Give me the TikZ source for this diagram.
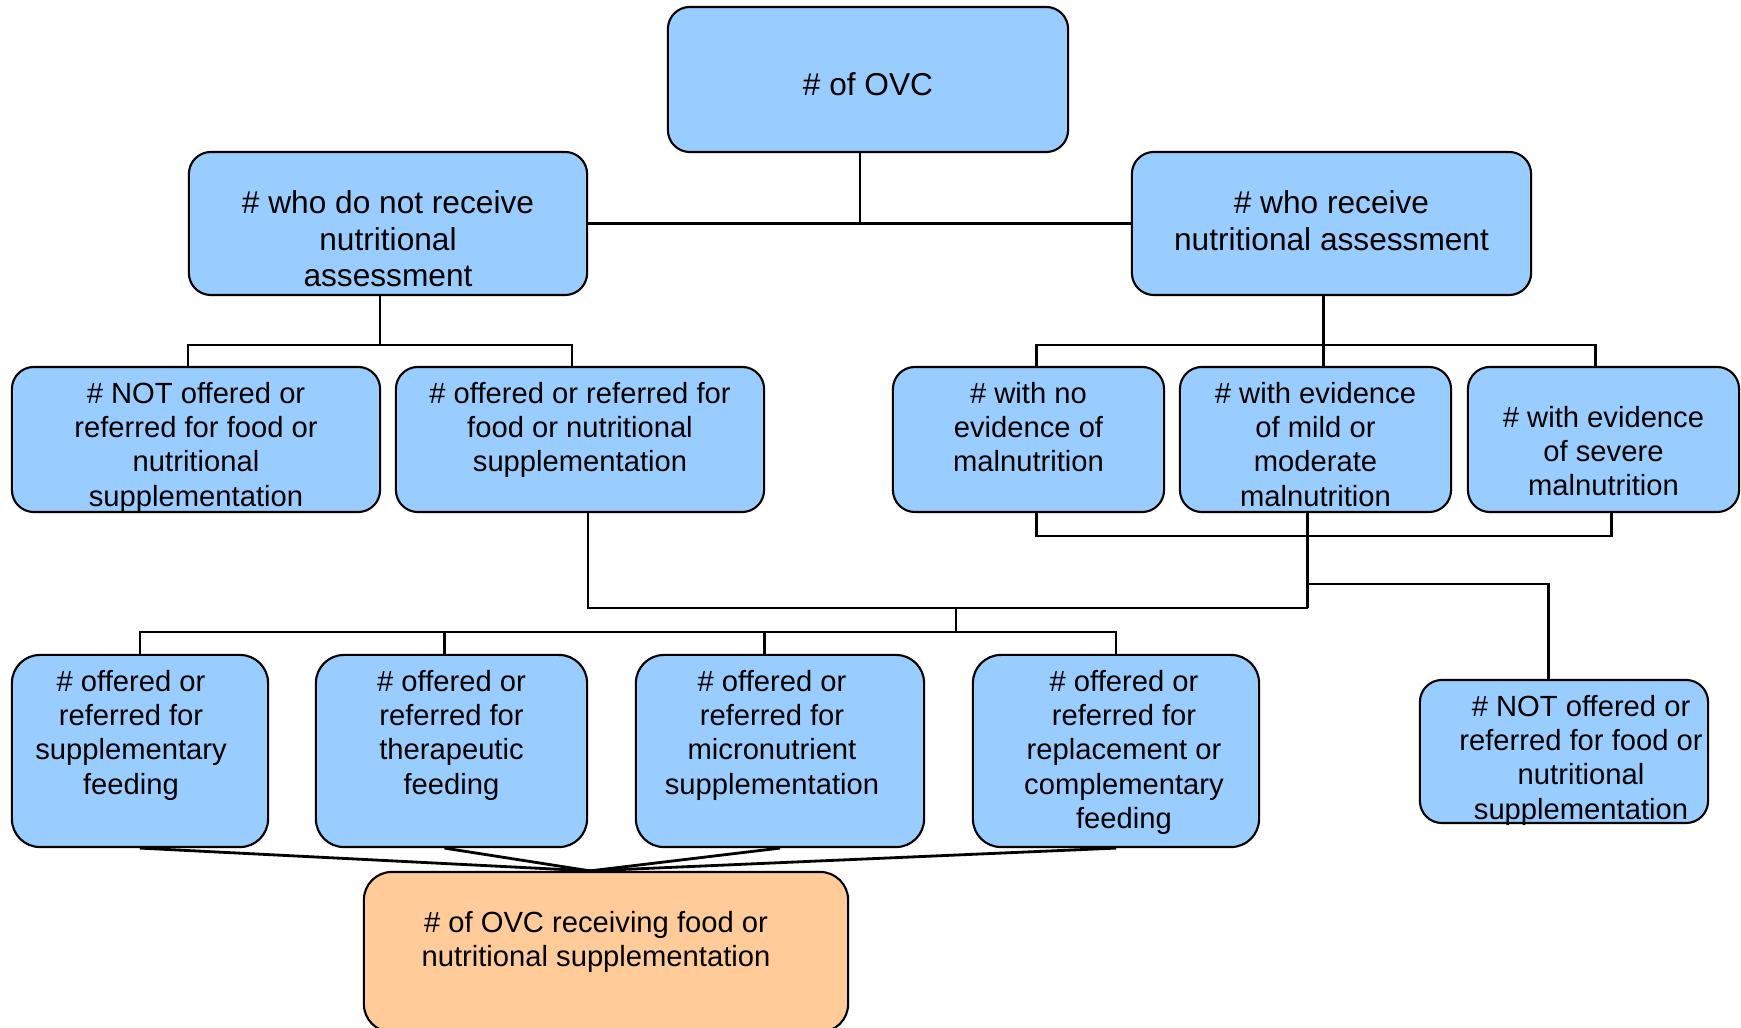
\documentclass[tikz,border=0pt]{standalone}
\usepackage{fontspec}
\setmainfont{Liberation Sans}
\definecolor{ovcblue}{HTML}{99CCFF}
\definecolor{ovcorange}{HTML}{FFCC99}
\newcommand{\bigtxt}{\fontsize{9}{10.4}\selectfont}
\newcommand{\smtxt}{\fontsize{8.3}{9.7}\selectfont}
\begin{document}
\begin{tikzpicture}[x=0.01cm,y=-0.01cm,
  box/.style={draw,line width=0.6pt,rounded corners=0.22cm,fill=ovcblue,inner sep=0pt},
  txt/.style={anchor=north,align=center,inner sep=0pt},
  link/.style={line width=0.7pt}]
\useasboundingbox (0,0) rectangle (1741,1028);
% boxes
\node[box,minimum width=4cm,minimum height=1.45cm] (ovc) at (868,79.5) {};
\node[box,minimum width=3.98cm,minimum height=1.43cm] (nona) at (388,223.5) {};
\node[box,minimum width=3.99cm,minimum height=1.43cm] (recv) at (1331.5,223.5) {};
\node[box,minimum width=3.68cm,minimum height=1.45cm] (notoff) at (196,439.5) {};
\node[box,minimum width=3.68cm,minimum height=1.45cm] (off) at (580,439.5) {};
\node[box,minimum width=2.71cm,minimum height=1.45cm] (nomal) at (1028.5,439.5) {};
\node[box,minimum width=2.71cm,minimum height=1.45cm] (mild) at (1315.5,439.5) {};
\node[box,minimum width=2.71cm,minimum height=1.45cm] (severe) at (1603.5,439.5) {};
\node[box,minimum width=2.56cm,minimum height=1.92cm,rounded corners=0.28cm] (supp) at (140,751) {};
\node[box,minimum width=2.71cm,minimum height=1.92cm,rounded corners=0.28cm] (ther) at (451.5,751) {};
\node[box,minimum width=2.88cm,minimum height=1.92cm,rounded corners=0.28cm] (micro) at (780,751) {};
\node[box,minimum width=2.86cm,minimum height=1.92cm,rounded corners=0.28cm] (repl) at (1116,751) {};
\node[box,minimum width=2.88cm,minimum height=1.43cm] (notoff2) at (1564,751.5) {};
\node[box,minimum width=4.84cm,minimum height=1.6cm,rounded corners=0.28cm,fill=ovcorange] (total) at (606,952) {};
% texts
\node[font=\bigtxt,inner sep=0pt] (ovc-t) at ([yshift=-0.045cm]ovc.center) {\# of OVC};
\node[txt,font=\bigtxt] (nona-t) at ([yshift=-0.39cm]nona.north) {\# who do not receive\\nutritional\\assessment};
\node[txt,font=\bigtxt] (recv-t) at ([yshift=-0.39cm]recv.north) {\# who receive\\nutritional assessment};
\node[txt,font=\smtxt] (notoff-t) at ([yshift=-0.16cm]notoff.north) {\# NOT offered or\\referred for food or\\nutritional\\supplementation};
\node[txt,font=\smtxt] (off-t) at ([yshift=-0.16cm]off.north) {\# offered or referred for\\food or nutritional\\supplementation};
\node[txt,font=\smtxt] (nomal-t) at ([yshift=-0.16cm]nomal.north) {\# with no\\evidence of\\malnutrition};
\node[txt,font=\smtxt] (mild-t) at ([yshift=-0.16cm]mild.north) {\# with evidence\\of mild or\\moderate\\malnutrition};
\node[txt,font=\smtxt] (severe-t) at ([yshift=-0.40cm]severe.north) {\# with evidence\\of severe\\malnutrition};
\node[txt,font=\smtxt] (supp-t) at ([xshift=-0.09cm,yshift=-0.16cm]supp.north) {\# offered or\\referred for\\supplementary\\feeding};
\node[txt,font=\smtxt] (ther-t) at ([yshift=-0.16cm]ther.north) {\# offered or\\referred for\\therapeutic\\feeding};
\node[txt,font=\smtxt] (micro-t) at ([xshift=-0.08cm,yshift=-0.16cm]micro.north) {\# offered or\\referred for\\micronutrient\\supplementation};
\node[txt,font=\smtxt] (repl-t) at ([xshift=0.08cm,yshift=-0.16cm]repl.north) {\# offered or\\referred for\\replacement or\\complementary\\feeding};
\node[txt,font=\smtxt] (notoff2-t) at ([xshift=0.17cm,yshift=-0.16cm]notoff2.north) {\# NOT offered or\\referred for food or\\nutritional\\supplementation};
\node[txt,font=\smtxt] (total-t) at ([xshift=-0.1cm,yshift=-0.40cm]total.north) {\# of OVC receiving food or\\nutritional supplementation};
% connectors
\coordinate (ovcdrop) at ([xshift=-0.08cm]ovc.south);
\draw[link] (nona.east) -- (recv.west);
\draw[link] (ovcdrop) -- (ovcdrop |- nona.east);
\coordinate (nonadrop) at ([xshift=-0.08cm]nona.south);
\path (nonadrop) ++(0,49) coordinate (busL);
\draw[link] (nonadrop) -- (busL);
\draw[link] ([xshift=-0.08cm]notoff.north) |- (busL) -| ([xshift=-0.08cm]off.north);
\coordinate (recvdrop) at ([xshift=-0.08cm]recv.south);
\draw[link] (recvdrop) -- (recvdrop |- mild.north);
\draw[link] ([xshift=0.08cm]nomal.north) |- (recvdrop |- busL) -| ([xshift=-0.08cm]severe.north);
\coordinate (milddrop) at ([xshift=-0.08cm]mild.south);
\path (milddrop) ++(0,23) coordinate (malbus) ++(0,48) coordinate (brF) ++(0,24) coordinate (joinR);
\draw[link] ([xshift=0.08cm]nomal.south) |- (malbus) -| ([xshift=0.08cm]severe.south);
\draw[link] (milddrop) -- (joinR);
\draw[link] (brF) -| ([xshift=-0.155cm]notoff2.north);
\draw[link] ([xshift=0.08cm]off.south) |- (joinR);
\coordinate (feedbus) at (956,632);
\draw[link] (feedbus |- joinR) -- (feedbus);
\draw[link] (supp.north) |- (feedbus) -| (repl.north);
\coordinate (therdrop) at ([xshift=-0.07cm]ther.north);
\coordinate (microdrop) at ([xshift=-0.155cm]micro.north);
\draw[link] (therdrop) -- (therdrop |- feedbus);
\draw[link] (microdrop) -- (microdrop |- feedbus);
\path (total.north) ++(-16,0) coordinate (fan);
\foreach \n/\dx in {supp/0,ther/-0.07,micro/0,repl/0}
  \draw[line width=0.8pt] ([xshift=\dx cm]\n.south) -- (fan);
\end{tikzpicture}
\end{document}
